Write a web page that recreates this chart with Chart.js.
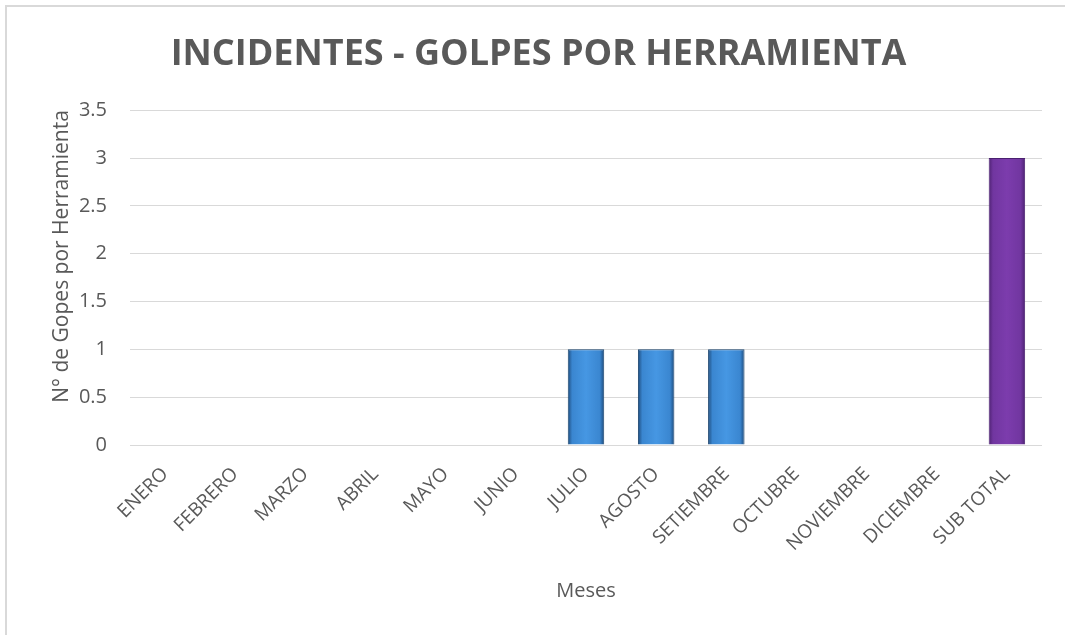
<!DOCTYPE html>
<html>
<head>
<meta charset="utf-8">
<script src="https://cdn.jsdelivr.net/npm/chart.js@4.4.1/dist/chart.umd.min.js"></script>
<style>
  html, body { margin: 0; padding: 0; background: #fff; overflow: hidden; }
  #box {
    position: absolute; left: 5px; top: 5px;
    width: 1060px; height: 630px;
    border: 2px solid #d9d9d9;
  }
</style>
</head>
<body>
<div id="box"><canvas id="myChart" width="1060" height="630"></canvas></div>
<script>
const meses = ['ENERO', 'FEBRERO', 'MARZO', 'ABRIL', 'MAYO', 'JUNIO', 'JULIO', 'AGOSTO', 'SETIEMBRE', 'OCTUBRE', 'NOVIEMBRE', 'DICIEMBRE', 'SUB TOTAL'];
const golpes = [0, 0, 0, 0, 0, 0, 1, 1, 1, 0, 0, 0, 3];
const yTicks = [0, 0.5, 1, 1.5, 2, 2.5, 3, 3.5];

const gris = '#595959';
const fuente = "'Open Sans', sans-serif";

// gradient across each bar, darker at the edges
function relleno(context) {
    const chart = context.chart;
    const x = chart.scales.x;
    const last = context.dataIndex === meses.length - 1;
    const base = last ? '#7638a6' : '#3f8fdb';
    if (!x || !chart.chartArea) return base;
    const cx = x.getPixelForValue(context.dataIndex);
    const w = (x.width / meses.length) * 0.52;
    const g = chart.ctx.createLinearGradient(cx - w / 2, 0, cx + w / 2, 0);
    if (last) {
        g.addColorStop(0, '#4e2272');
        g.addColorStop(0.12, '#7136a0');
        g.addColorStop(0.5, '#7c3cad');
        g.addColorStop(0.88, '#7136a0');
        g.addColorStop(1, '#4e2272');
    } else {
        g.addColorStop(0, '#1d4a7a');
        g.addColorStop(0.12, '#3a86d0');
        g.addColorStop(0.5, '#4697e3');
        g.addColorStop(0.88, '#3a86d0');
        g.addColorStop(1, '#1d4a7a');
    }
    return g;
}

const ctx = document.getElementById('myChart').getContext('2d');
var myChart = new Chart(ctx, {
    type: 'bar',
    data: {
        labels: meses,
        datasets: [{
            label: 'N° de Gopes por Herramienta',
            data: golpes,
            backgroundColor: relleno,
            borderColor: golpes.map((v, i) => i === meses.length - 1 ? '#4a2070' : '#1c4670'),
            borderWidth: 1,
            barPercentage: 0.52,
            categoryPercentage: 1
        }]
    },
    options: {
        responsive: false,
        animation: false,
        layout: { padding: { top: 7, right: 25, bottom: 30, left: 28 } },
        plugins: {
            legend: { display: false },
            tooltip: { enabled: false },
            title: {
                display: true,
                text: 'INCIDENTES - GOLPES POR HERRAMIENTA',
                color: gris,
                font: { family: fuente, size: 36, weight: 'bold' },
                padding: { top: 19, bottom: 34 }
            }
        },
        scales: {
            x: {
                grid: { display: false, drawTicks: false },
                border: { display: false },
                ticks: {
                    color: gris,
                    font: { family: fuente, size: 19 },
                    minRotation: 45,
                    maxRotation: 45,
                    autoSkip: false,
                    padding: 18
                },
                title: {
                    display: true,
                    text: 'Meses',
                    color: gris,
                    font: { family: fuente, size: 20 },
                    padding: { top: 4, bottom: 4 }
                },
                afterFit: function (scale) { scale.height = 162; }
            },
            y: {
                min: 0,
                max: 3.5,
                afterBuildTicks: function (scale) {
                    scale.ticks = yTicks.map(v => ({ value: v }));
                },
                grid: { color: '#d9d9d9', lineWidth: 1, drawTicks: false },
                border: { display: false },
                ticks: {
                    color: gris,
                    font: { family: fuente, size: 20 },
                    padding: 23,
                    callback: v => String(v)
                },
                title: {
                    display: true,
                    text: 'N° de Gopes por Herramienta',
                    color: gris,
                    align: 'end',
                    font: { family: fuente, size: 21 },
                    padding: { top: 14, bottom: 4 }
                },
                afterFit: function (scale) { scale.width = 95; }
            }
        }
    }
});
</script>
</body>
</html>
